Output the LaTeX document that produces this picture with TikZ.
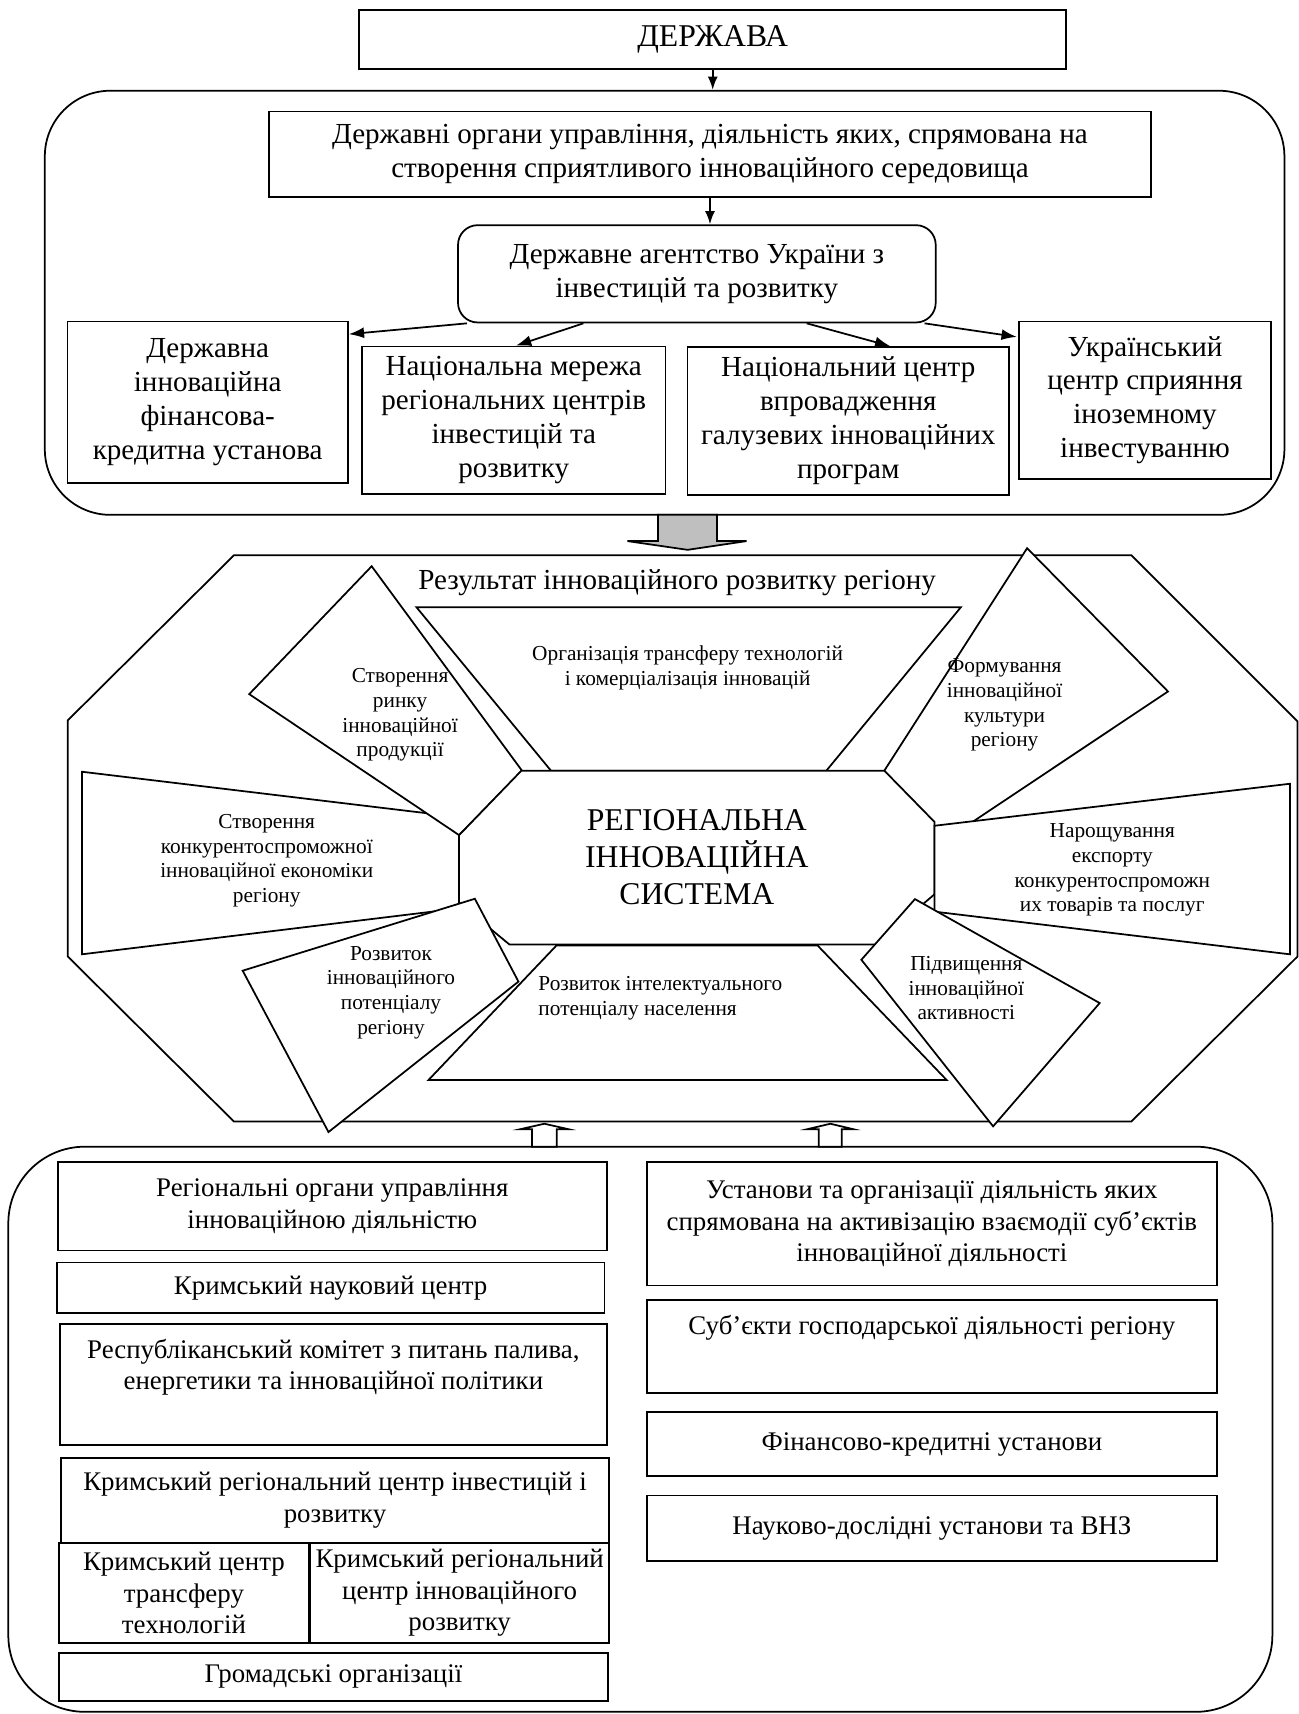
\documentclass[tikz,border=0pt]{standalone}
\usepackage{fontspec}
\setmainfont{Liberation Serif}
\usetikzlibrary{arrows.meta,calc}
\newcommand\myu{0.5pt}
\begin{document}
\begin{tikzpicture}[x=0.5pt,y=-0.5pt, line width=0.8pt,
 box/.style={draw, fill=white, inner sep=0pt, align=center},
 txt/.style={inner sep=0pt, align=center},
 tfont/.style={font=\fontsize{13.3}{15.5}\selectfont},
 bfont/.style={font=\fontsize{12.3}{14.3}\selectfont},
 sfont/.style={font=\fontsize{9.75}{11.3}\selectfont},
 cfont/.style={font=\fontsize{14.5}{16.8}\selectfont},
 arr/.style={-{Latex[length=7pt,width=5pt]}},
 shp/.style={draw, fill=white},
]
\useasboundingbox (0,0) rectangle (1188,1568);

% ---------- top part ----------
\node[box, cfont, minimum width=647*\myu, minimum height=54*\myu] (derzh) at (652,36) {ДЕРЖАВА};
\node[draw, rounded corners=30pt, minimum width=1134*\myu, minimum height=388*\myu] (gov) at (608,277) {};
\node[box, tfont, minimum width=807*\myu, minimum height=78*\myu] (organs) at (649.5,141)
  {Державні органи управління, діяльність яких, спрямована на\\створення сприятливого інноваційного середовища};
\node[box, tfont, rounded corners=9pt, minimum width=437*\myu, minimum height=89*\myu] (agency) at (637.5,250.5)
  {Державне агентство України з\\інвестицій та розвитку};
\node[box, tfont, minimum width=256.5*\myu, minimum height=148*\myu] (dfk) at (190,368)
  {Державна\\інноваційна\\фінансова-\\кредитна установа};
\node[box, tfont, minimum width=277.5*\myu, minimum height=135*\myu] (nmr) at (470,384.5)
  {Національна мережа\\регіональних центрів\\інвестицій та\\розвитку};
\node[box, tfont, minimum width=294*\myu, minimum height=135*\myu] (ncv) at (776,385)
  {Національний центр\\впровадження\\галузевих інноваційних\\програм};
\node[box, tfont, minimum width=231*\myu, minimum height=144*\myu] (ucs) at (1047.5,366)
  {Український\\центр сприяння\\іноземному\\інвестуванню};

\draw[-{Latex[length=6pt,width=4.5pt]}] (derzh.south) -- (derzh.south |- gov.north);
\draw[-{Latex[length=6pt,width=4.5pt]}] (organs.south) -- (organs.south |- agency.north);
\draw[arr] ($(agency.south west)+(9,0)$) -- ($(dfk.north east)+(0,12.5)$);
\draw[arr] ($(agency.south west)+(115.5,0)$) -- ($(nmr.north)+(2,0)$);
\draw[arr] ($(agency.south west)+(319.8,0)$) -- ($(ncv.north)+(38.5,0)$);
\draw[arr] ($(agency.south east)+(-11,0)$) -- ($(ucs.north west)+(-1,15)$);

% big grey arrow
\draw[fill=gray!50] (602,471) -- (656,471) -- (656,495) -- (683,495) -- (629,503) -- (574,495) -- (602,495) -- cycle;

% ---------- middle part ----------
\draw[shp] (214,508) -- (1035,508) -- (1187,660) -- (1187,875) -- (1035,1026) -- (214,1026) -- (62,875) -- (62,659) -- cycle;
% top trapezoid
\draw[shp] (381,555.5) -- (879,555.5) -- (756,705) -- (504,705) -- cycle;
% bottom trapezoid
\draw[shp] (509,865) -- (748,865) -- (866,988) -- (392,988) -- cycle;
% left trapezoid
\draw[shp] (75,706) -- (420,747.5) -- (420,831) -- (75,873) -- cycle;
% upper-left kite
\draw[shp] (340,518) -- (477.5,705) -- (420,764) -- (228,635) -- cycle;
% upper-right kite
\draw[shp] (939.6,501.5) -- (1068.5,632.6) -- (855,775) -- (809,705) -- cycle;
% central octagon
\draw[shp] (477,705) -- (809,705) -- (855,752) -- (855,818) -- (801,864) -- (466,864) -- (420,826) -- (420,764) -- cycle;
% right trapezoid
\draw[shp] (855,755.4) -- (1180,717) -- (1180,873) -- (855,834) -- cycle;
% lower-left rotated
\draw[shp] (222,888) -- (434.4,822.2) -- (474.3,898) -- (300.5,1035.6) -- cycle;
% lower-right rotated
\draw[shp] (837,822.5) -- (1006,917.6) -- (908.5,1030.4) -- (788,878) -- cycle;

\node[txt, tfont] (title) at (619.5,533) {Результат інноваційного розвитку регіону};
\node[txt, sfont] (t1) at (629,611) {Організація трансферу технологій\\і комерціалізація інновацій};
\node[txt, sfont] (t2) at (366,654) {Створення\\ринку\\інноваційної\\продукції};
\node[txt, sfont] (t3) at (244,787.5) {Створення\\конкурентоспроможної\\інноваційної економіки\\регіону};
\node[txt, sfont] (t4) at (357.7,908) {Розвиток\\інноваційного\\потенціалу\\регіону};
\node[txt, sfont, align=left, anchor=west] (t5) at (491.8,913) {Розвиток інтелектуального\\потенціалу населення};
\node[txt, cfont] (ris) at (637.5,784) {РЕГІОНАЛЬНА\\ІННОВАЦІЙНА\\СИСТЕМА};
\node[txt, sfont] (t6) at (919,645) {Формування\\інноваційної\\культури\\регіону};
\node[txt, sfont] (t7) at (1017.5,796) {Нарощування\\експорту\\конкурентоспроможн\\их товарів та послуг};
\node[txt, sfont] (t8) at (884,904) {Підвищення\\інноваційної\\активності};

% ---------- bottom part ----------
\node[draw, rounded corners=35pt, minimum width=1156.4*\myu, minimum height=517*\myu] (reg) at (585.8,1307.5) {};

% hollow arrows
\draw[fill=white] (486.6,1049) -- (486.6,1033) -- (476,1033) -- (498,1028) -- (520,1033) -- (509.4,1033) -- (509.4,1049) -- cycle;
\draw[fill=white] (749,1049) -- (749,1033) -- (738.6,1033) -- (759.6,1028) -- (780.6,1033) -- (770,1033) -- (770,1049) -- cycle;

\node[box, bfont, minimum width=502*\myu, minimum height=81*\myu] (rou) at (304,1103.5)
  {Регіональні органи управління\\інноваційною діяльністю};
\node[box, bfont, minimum width=501*\myu, minimum height=46*\myu] (kns) at (302.5,1178) {Кримський науковий центр};
\node[box, minimum width=500*\myu, minimum height=111*\myu] (rk) at (305,1266.5) {};
\node[txt, bfont] (rkt) at (305,1251) {Республіканський комітет з питань палива,\\енергетики та інноваційної політики};
\node[box, bfont, minimum width=501*\myu, minimum height=77*\myu] (krc) at (306.5,1372.5)
  {Кримський регіональний центр інвестицій і\\розвитку};
\node[box, bfont, minimum width=228.5*\myu, minimum height=91.5*\myu] (kct) at (168.25,1457.25)
  {Кримський центр\\трансферу\\технологій};
\node[box, bfont, minimum width=273*\myu, minimum height=91.5*\myu] (krir) at (420.5,1457.25)
  {Кримський регіональний\\центр інноваційного\\розвитку};
\node[box, bfont, minimum width=502*\myu, minimum height=44*\myu] (go) at (305,1534) {Громадські організації};

\node[box, bfont, minimum width=521*\myu, minimum height=113*\myu] (ust) at (852.5,1119.5)
  {Установи та організації діяльність яких\\спрямована на активізацію взаємодії суб’єктів\\інноваційної діяльності};
\node[box, minimum width=521*\myu, minimum height=85*\myu] (sub) at (852.5,1231.5) {};
\node[txt, bfont] (subt) at (852.5,1215) {Суб’єкти господарської діяльності регіону};
\node[box, bfont, minimum width=521*\myu, minimum height=58*\myu] (fin) at (852.5,1321) {Фінансово-кредитні установи};
\node[box, bfont, minimum width=521*\myu, minimum height=60*\myu] (nau) at (852.5,1398) {Науково-дослідні установи та ВНЗ};
\end{tikzpicture}
\end{document}
